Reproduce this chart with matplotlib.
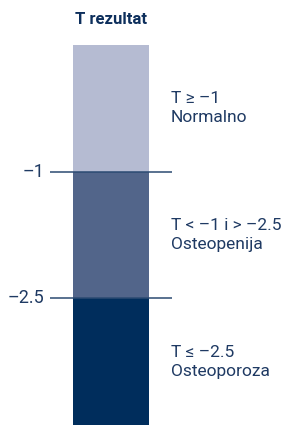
import matplotlib.pyplot as plt

plt.rcParams['font.family'] = ['Roboto', 'DejaVu Sans']

# bands from bottom to top
bands = ["Osteoporoza", "Osteopenija", "Normalno"]
conditions = ["T \u2264 \u20132.5", "T < \u20131 i > \u20132.5", "T \u2265 \u20131"]
band_colors = ["#002d5c", "#52658a", "#b5bbd2"]
thresholds = ["\u20132.5", "\u20131"]

text_color = "#1f3a63"
line_color = "#2b4a72"

fig = plt.figure(figsize=(2.85, 4.25), dpi=100)
ax = fig.add_axes([0, 0, 1, 1])
ax.set_xlim(0, 285)
ax.set_ylim(0, 425 / 126.7)
ax.axis("off")

# stacked bar, one unit per band
for i, (name, cond, col) in enumerate(zip(bands, conditions, band_colors)):
    ax.bar(111, 1, bottom=i, width=76, color=col, linewidth=0)
    ax.text(171, i + 0.5, cond + "\n" + name, ha="left", va="center",
            fontsize=12.5, color=text_color, linespacing=1.35)

# threshold lines between bands
for j, lab in enumerate(thresholds):
    y = j + 1
    ax.hlines(y, 50, 172, color=line_color, linewidth=1.1)
    ax.text(44, y, lab, ha="right", va="center", fontsize=13, color=text_color)

ax.text(111, 3.2, "T rezultat", ha="center", va="center", fontsize=12,
        fontweight="bold", color="#0d2f5c")

fig.savefig("out.png", dpi=100)
